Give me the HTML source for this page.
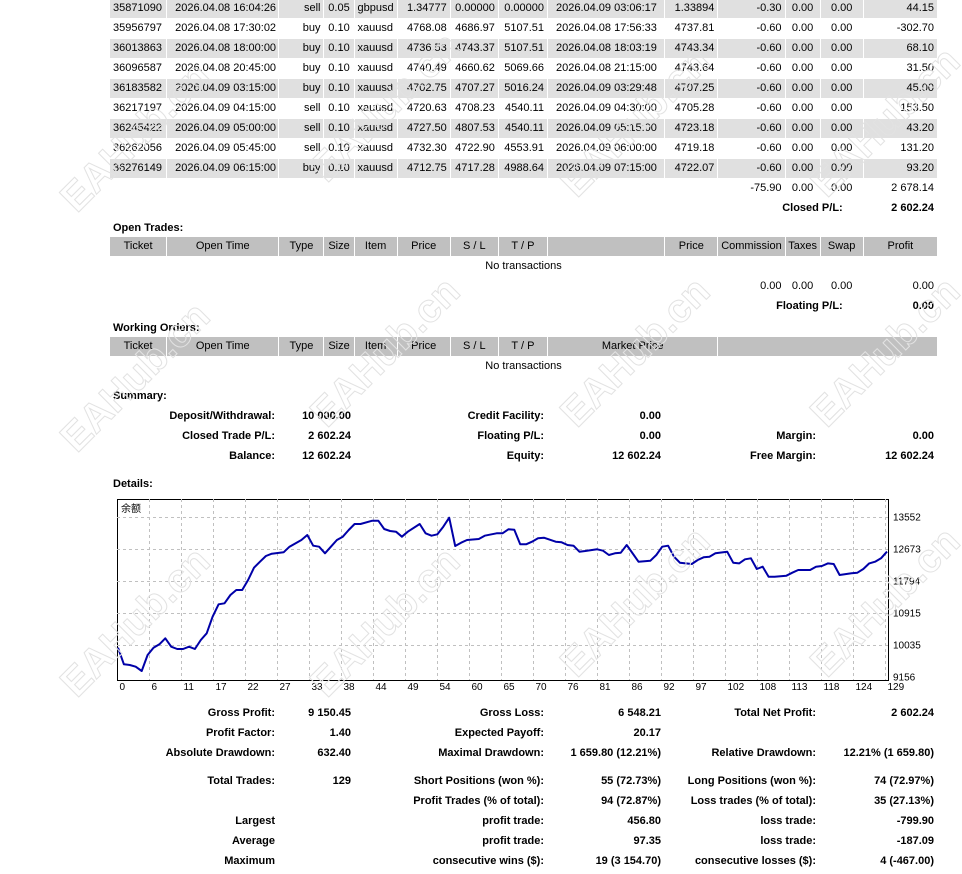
<!DOCTYPE html>
<html style="overflow:hidden"><head><meta charset="utf-8">
<style>
html,body{overflow:hidden;width:962px;height:874px}
body{margin:0;background:#fff;position:relative;font-family:"Liberation Sans","Noto Sans CJK SC",sans-serif;font-size:11.5px;color:#000}
table.t{position:absolute;left:109px;border-collapse:separate;border-spacing:1px;table-layout:fixed;width:829px;font-size:11px}
table.t td{height:19px;padding:0 3px;white-space:nowrap;overflow:hidden;line-height:19px}
tr.g td{background:#e0e0e0}
tr.h td{background:#c0c0c0;text-align:center}
.r{text-align:right}.c{text-align:center}.l{text-align:left}
.b{font-weight:bold}
.a{position:absolute;white-space:nowrap;line-height:14px}
.ar{position:absolute;white-space:nowrap;line-height:14px;transform:translateX(-100%)}
#wmwrap{position:absolute;left:0;top:0;width:962px;height:874px;overflow:hidden;pointer-events:none}
.wm{position:absolute;font-size:40px;font-weight:bold;color:rgba(255,255,255,0);-webkit-text-stroke:1px #e2e2e2;transform:rotate(-45deg);white-space:nowrap;pointer-events:none}
.tp{padding-left:8px!important}
</style></head><body>
<table class="t" style="top:-2px">
<colgroup><col style="width:56px"><col style="width:111px"><col style="width:44px"><col style="width:29px"><col style="width:42px"><col style="width:52px"><col style="width:47px"><col style="width:48px"><col style="width:116px"><col style="width:52px"><col style="width:66px"><col style="width:34px"><col style="width:42px"><col style="width:73px"></colgroup>
<tr class="g"><td>35871090</td><td class="tp">2026.04.08 16:04:26</td><td class="r">sell</td><td class="c">0.05</td><td>gbpusd</td><td class="r">1.34777</td><td class="r">0.00000</td><td class="r">0.00000</td><td class="tp">2026.04.09 03:06:17</td><td class="r">1.33894</td><td class="r">-0.30</td><td class="c">0.00</td><td class="c">0.00</td><td class="r">44.15</td></tr>
<tr><td>35956797</td><td class="tp">2026.04.08 17:30:02</td><td class="r">buy</td><td class="c">0.10</td><td>xauusd</td><td class="r">4768.08</td><td class="r">4686.97</td><td class="r">5107.51</td><td class="tp">2026.04.08 17:56:33</td><td class="r">4737.81</td><td class="r">-0.60</td><td class="c">0.00</td><td class="c">0.00</td><td class="r">-302.70</td></tr>
<tr class="g"><td>36013863</td><td class="tp">2026.04.08 18:00:00</td><td class="r">buy</td><td class="c">0.10</td><td>xauusd</td><td class="r">4736.53</td><td class="r">4743.37</td><td class="r">5107.51</td><td class="tp">2026.04.08 18:03:19</td><td class="r">4743.34</td><td class="r">-0.60</td><td class="c">0.00</td><td class="c">0.00</td><td class="r">68.10</td></tr>
<tr><td>36096587</td><td class="tp">2026.04.08 20:45:00</td><td class="r">buy</td><td class="c">0.10</td><td>xauusd</td><td class="r">4740.49</td><td class="r">4660.62</td><td class="r">5069.66</td><td class="tp">2026.04.08 21:15:00</td><td class="r">4743.64</td><td class="r">-0.60</td><td class="c">0.00</td><td class="c">0.00</td><td class="r">31.50</td></tr>
<tr class="g"><td>36183582</td><td class="tp">2026.04.09 03:15:00</td><td class="r">buy</td><td class="c">0.10</td><td>xauusd</td><td class="r">4702.75</td><td class="r">4707.27</td><td class="r">5016.24</td><td class="tp">2026.04.09 03:29:48</td><td class="r">4707.25</td><td class="r">-0.60</td><td class="c">0.00</td><td class="c">0.00</td><td class="r">45.00</td></tr>
<tr><td>36217197</td><td class="tp">2026.04.09 04:15:00</td><td class="r">sell</td><td class="c">0.10</td><td>xauusd</td><td class="r">4720.63</td><td class="r">4708.23</td><td class="r">4540.11</td><td class="tp">2026.04.09 04:30:00</td><td class="r">4705.28</td><td class="r">-0.60</td><td class="c">0.00</td><td class="c">0.00</td><td class="r">153.50</td></tr>
<tr class="g"><td>36245422</td><td class="tp">2026.04.09 05:00:00</td><td class="r">sell</td><td class="c">0.10</td><td>xauusd</td><td class="r">4727.50</td><td class="r">4807.53</td><td class="r">4540.11</td><td class="tp">2026.04.09 05:15:00</td><td class="r">4723.18</td><td class="r">-0.60</td><td class="c">0.00</td><td class="c">0.00</td><td class="r">43.20</td></tr>
<tr><td>36262056</td><td class="tp">2026.04.09 05:45:00</td><td class="r">sell</td><td class="c">0.10</td><td>xauusd</td><td class="r">4732.30</td><td class="r">4722.90</td><td class="r">4553.91</td><td class="tp">2026.04.09 06:00:00</td><td class="r">4719.18</td><td class="r">-0.60</td><td class="c">0.00</td><td class="c">0.00</td><td class="r">131.20</td></tr>
<tr class="g"><td>36276149</td><td class="tp">2026.04.09 06:15:00</td><td class="r">buy</td><td class="c">0.10</td><td>xauusd</td><td class="r">4712.75</td><td class="r">4717.28</td><td class="r">4988.64</td><td class="tp">2026.04.09 07:15:00</td><td class="r">4722.07</td><td class="r">-0.60</td><td class="c">0.00</td><td class="c">0.00</td><td class="r">93.20</td></tr>
<tr><td></td><td></td><td></td><td></td><td></td><td></td><td></td><td></td><td></td><td></td><td class="r">-75.90</td><td class="c">0.00</td><td class="c">0.00</td><td class="r">2 678.14</td></tr>
<tr><td></td><td></td><td></td><td></td><td></td><td></td><td></td><td></td><td></td><td></td><td colspan="3" class="r b" style="padding-right:20px">Closed P/L:</td><td class="r b">2 602.24</td></tr>
</table>

<div class="a b" style="left:113px;top:221px;font-size:11px">Open Trades:</div>
<table class="t" style="top:236px">
<colgroup><col style="width:56px"><col style="width:111px"><col style="width:44px"><col style="width:29px"><col style="width:42px"><col style="width:52px"><col style="width:47px"><col style="width:48px"><col style="width:116px"><col style="width:52px"><col style="width:66px"><col style="width:34px"><col style="width:42px"><col style="width:73px"></colgroup>
<tr class="h"><td>Ticket</td><td>Open Time</td><td>Type</td><td>Size</td><td>Item</td><td>Price</td><td>S / L</td><td>T / P</td><td></td><td>Price</td><td style="padding:0">Commission</td><td style="padding:0">Taxes</td><td>Swap</td><td>Profit</td></tr>
<tr><td colspan="14" class="c">No transactions</td></tr>
<tr><td colspan="10"></td><td class="r">0.00</td><td class="c">0.00</td><td class="c">0.00</td><td class="r">0.00</td></tr>
<tr><td colspan="10"></td><td colspan="3" class="r b" style="padding-right:20px">Floating P/L:</td><td class="r b">0.00</td></tr>
</table>

<div class="a b" style="left:113px;top:321px;font-size:11px">Working Orders:</div>
<table class="t" style="top:336px">
<colgroup><col style="width:56px"><col style="width:111px"><col style="width:44px"><col style="width:29px"><col style="width:42px"><col style="width:52px"><col style="width:47px"><col style="width:48px"><col style="width:116px"><col style="width:52px"><col style="width:66px"><col style="width:34px"><col style="width:42px"><col style="width:73px"></colgroup>
<tr class="h"><td>Ticket</td><td>Open Time</td><td>Type</td><td>Size</td><td>Item</td><td>Price</td><td>S / L</td><td>T / P</td><td colspan="2">Market Price</td><td colspan="4"></td></tr>
<tr><td colspan="14" class="c">No transactions</td></tr>
</table>

<div class="a b" style="left:113px;top:389px;font-size:11px">Summary:</div>
<div style="font-size:11px">
<div class="ar b" style="left:275px;top:409px">Deposit/Withdrawal:</div><div class="ar b" style="left:351px;top:409px">10 000.00</div>
<div class="ar b" style="left:544px;top:409px">Credit Facility:</div><div class="ar b" style="left:661px;top:409px">0.00</div>
<div class="ar b" style="left:275px;top:429px">Closed Trade P/L:</div><div class="ar b" style="left:351px;top:429px">2 602.24</div>
<div class="ar b" style="left:544px;top:429px">Floating P/L:</div><div class="ar b" style="left:661px;top:429px">0.00</div>
<div class="ar b" style="left:816px;top:429px">Margin:</div><div class="ar b" style="left:934px;top:429px">0.00</div>
<div class="ar b" style="left:275px;top:449px">Balance:</div><div class="ar b" style="left:351px;top:449px">12 602.24</div>
<div class="ar b" style="left:544px;top:449px">Equity:</div><div class="ar b" style="left:661px;top:449px">12 602.24</div>
<div class="ar b" style="left:816px;top:449px">Free Margin:</div><div class="ar b" style="left:934px;top:449px">12 602.24</div>
</div>
<div class="a b" style="left:113px;top:477px;font-size:11px">Details:</div>

<svg id="chart" style="position:absolute;left:0;top:0" width="962" height="874"></svg>

<div style="font-size:11px">
<div class="ar b" style="left:275px;top:706px">Gross Profit:</div><div class="ar b" style="left:351px;top:706px">9 150.45</div>
<div class="ar b" style="left:544px;top:706px">Gross Loss:</div><div class="ar b" style="left:661px;top:706px">6 548.21</div>
<div class="ar b" style="left:816px;top:706px">Total Net Profit:</div><div class="ar b" style="left:934px;top:706px">2 602.24</div>
<div class="ar b" style="left:275px;top:726px">Profit Factor:</div><div class="ar b" style="left:351px;top:726px">1.40</div>
<div class="ar b" style="left:544px;top:726px">Expected Payoff:</div><div class="ar b" style="left:661px;top:726px">20.17</div>
<div class="ar b" style="left:275px;top:746px">Absolute Drawdown:</div><div class="ar b" style="left:351px;top:746px">632.40</div>
<div class="ar b" style="left:544px;top:746px">Maximal Drawdown:</div><div class="ar b" style="left:661px;top:746px">1 659.80 (12.21%)</div>
<div class="ar b" style="left:816px;top:746px">Relative Drawdown:</div><div class="ar b" style="left:934px;top:746px">12.21% (1 659.80)</div>
<div class="ar b" style="left:275px;top:774px">Total Trades:</div><div class="ar b" style="left:351px;top:774px">129</div>
<div class="ar b" style="left:544px;top:774px">Short Positions (won %):</div><div class="ar b" style="left:661px;top:774px">55 (72.73%)</div>
<div class="ar b" style="left:816px;top:774px">Long Positions (won %):</div><div class="ar b" style="left:934px;top:774px">74 (72.97%)</div>
<div class="ar b" style="left:544px;top:794px">Profit Trades (% of total):</div><div class="ar b" style="left:661px;top:794px">94 (72.87%)</div>
<div class="ar b" style="left:816px;top:794px">Loss trades (% of total):</div><div class="ar b" style="left:934px;top:794px">35 (27.13%)</div>
<div class="ar b" style="left:275px;top:814px">Largest</div>
<div class="ar b" style="left:544px;top:814px">profit trade:</div><div class="ar b" style="left:661px;top:814px">456.80</div>
<div class="ar b" style="left:816px;top:814px">loss trade:</div><div class="ar b" style="left:934px;top:814px">-799.90</div>
<div class="ar b" style="left:275px;top:834px">Average</div>
<div class="ar b" style="left:544px;top:834px">profit trade:</div><div class="ar b" style="left:661px;top:834px">97.35</div>
<div class="ar b" style="left:816px;top:834px">loss trade:</div><div class="ar b" style="left:934px;top:834px">-187.09</div>
<div class="ar b" style="left:275px;top:854px">Maximum</div>
<div class="ar b" style="left:544px;top:854px">consecutive wins ($):</div><div class="ar b" style="left:661px;top:854px">19 (3 154.70)</div>
<div class="ar b" style="left:816px;top:854px">consecutive losses ($):</div><div class="ar b" style="left:934px;top:854px">4 (-467.00)</div>
</div>

<div id="wmwrap">
<div class="wm" style="left:40px;top:115px">EAHub.cn</div>
<div class="wm" style="left:290px;top:85px">EAHub.cn</div>
<div class="wm" style="left:540px;top:100px">EAHub.cn</div>
<div class="wm" style="left:790px;top:100px">EAHub.cn</div>
<div class="wm" style="left:40px;top:355px">EAHub.cn</div>
<div class="wm" style="left:290px;top:330px">EAHub.cn</div>
<div class="wm" style="left:540px;top:330px">EAHub.cn</div>
<div class="wm" style="left:790px;top:330px">EAHub.cn</div>
<div class="wm" style="left:40px;top:600px">EAHub.cn</div>
<div class="wm" style="left:290px;top:600px">EAHub.cn</div>
<div class="wm" style="left:540px;top:580px">EAHub.cn</div>
<div class="wm" style="left:790px;top:580px">EAHub.cn</div>
</div>

<script>
const tradeIdx = [0,1,2,3,4,5,6,7,8,9,10,11,12,13,14,15,16,17,18,19,20,21,22,23,24,25,26,28,29,31,32,33,34,35,36,37,38,39,40,41,43,44,45,46,47,48,49,51,52,53,54,55,56,57,58,59,61,62,64,65,66,67,68,69,70,71,72,74,75,76,77,78,79,81,82,83,84,85,86,88,90,91,92,93,94,95,97,98,99,100,101,103,104,105,106,107,108,109,110,111,113,114,115,117,118,119,120,121,122,124,125,126,127,128,129,130];
const balance = [9961,9505,9486,9439,9321,9760,9961,10054,10219,9988,9925,9925,9988,9925,10172,10356,10813,11153,11180,11409,11546,11546,11821,12158,12324,12480,12544,12581,12736,12919,13057,12763,12736,12554,12736,12919,13010,13194,13359,13359,13450,13450,13222,13167,13147,13010,13147,13359,13103,13038,13076,13285,13532,12755,12845,12919,12947,13038,13103,13103,13213,13200,12801,12801,12873,12966,12983,12873,12856,12782,12763,12598,12617,12664,12626,12507,12554,12572,12782,12324,12352,12507,12736,12763,12461,12296,12260,12370,12444,12461,12554,12598,12296,12278,12389,12416,12123,12187,11911,11911,11939,12021,12095,12095,12187,12205,12278,12260,11958,12004,12021,12123,12278,12324,12416,12602];
const xTickLabels = ["0","6","11","17","22","27","33","38","44","49","54","60","65","70","76","81","86","92","97","102","108","113","118","124","129"];
const yTickValues = [9156,10035,10915,11794,12673,13552];
const chartTitle = "余额";

const svg = document.getElementById('chart');
const NS = 'http://www.w3.org/2000/svg';
const L = 117, R = 888, T = 499, B = 680;
const X0 = 118, XSTEP = 5.915;
function xs(i){ return X0 + i * XSTEP; }
function ys(v){ return 677 - (v - 9156) * (160 / 4396); }
function mk(tag, attrs){ const e = document.createElementNS(NS, tag); for (const k in attrs) e.setAttribute(k, attrs[k]); svg.appendChild(e); return e; }

const frame = mk('rect', {x:L+0.5, y:T+0.5, width:R-L, height:B-T, fill:'#fff', stroke:'#000', 'stroke-width':1});



yTickValues.forEach(function(v, k){
  const y = Math.round(ys(v)) + 0.5;
  if (k > 0) {
    const g = mk('line', {x1:L, x2:R, y1:y, y2:y, stroke:'#c0c0c0', 'stroke-dasharray':'3,3'});
    
    
  }
  const t = mk('text', {x:893, y:y+3, 'font-size':'10', 'font-family':'Liberation Sans, sans-serif'});
  t.textContent = String(v);
  
  
});

xTickLabels.forEach(function(lab, k){
  const x = L + 32 * k + 0.5;
  if (k > 0) {
    const g = mk('line', {x1:x, x2:x, y1:T, y2:B, stroke:'#c0c0c0', 'stroke-dasharray':'3,3'});
    
    
  }
  const t = mk('text', {x:x+2, y:690, 'font-size':'10', 'font-family':'Liberation Sans, sans-serif'});
  t.textContent = lab;
  
  
});

const ttl = mk('text', {x:121, y:512, 'font-size':'10', 'font-family':'Noto Sans CJK SC, sans-serif'});
ttl.textContent = chartTitle;



let d = '';
tradeIdx.forEach(function(i, k){ d += (k ? 'L' : 'M') + xs(i).toFixed(1) + ',' + ys(balance[k]).toFixed(1); });
const line = mk('path', {d:d, fill:'none', stroke:'#0000a8', 'stroke-width':2, 'stroke-linejoin':'round'});


</script>
</body></html>
